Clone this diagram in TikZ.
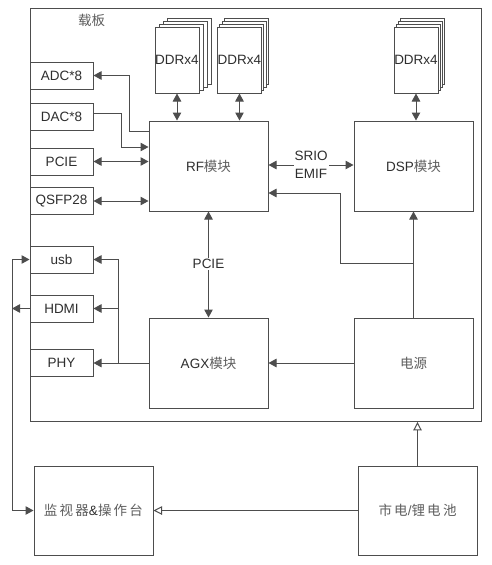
\documentclass[tikz,border=0pt]{standalone}
\usepackage{fontspec}
\setmainfont{Liberation Sans}
\newfontfamily\cjk{Noto Sans CJK SC}
\usetikzlibrary{arrows.meta,calc}
\definecolor{ln}{HTML}{4D4D4D}
\definecolor{tx}{HTML}{2E2E2E}
\definecolor{cj}{HTML}{5E5E5E}
\tikzset{
  box/.style={draw=ln,line width=1pt,fill=white,inner sep=0pt,text=tx,font=\fontsize{13.5}{18}\selectfont},
  conn/.style={draw=ln,line width=1pt},
  arr/.style={conn,-{Triangle[length=8pt,width=8.5pt]}},
  arrb/.style={conn,{Triangle[length=8pt,width=8.5pt]}-{Triangle[length=8pt,width=8.5pt]}},
  oarr/.style={conn,-{Triangle[open,length=8.5pt,width=8.5pt]}},
  lbl/.style={fill=white,inner sep=1pt,text=tx,font=\fontsize{13.5}{18}\selectfont,align=center}
}
\begin{document}
\begin{tikzpicture}[x=1pt,y=-1pt]
\useasboundingbox (0,0) rectangle (492,565);
% board
\node[box,minimum width=451pt,minimum height=412.5pt] (board) at (255.5,215.2) {};
\node[text=cj,font=\fontsize{13.5}{18}\selectfont\cjk] (boardlbl) at (91.5,20) {载板};
% DDR stacks
\foreach \k in {3,2,1}{
  \draw[conn,fill=white] (155+4*\k,27-2.9*\k) rectangle (199+4*\k,93-2.9*\k);
  \draw[conn,fill=white] (217+2.5*\k,27-2.7*\k) rectangle (261+2.5*\k,93-2.7*\k);
  \draw[conn,fill=white] (394+2.3*\k,27-2.7*\k) rectangle (438+2.3*\k,93-2.7*\k);
}
\node[box,minimum width=44pt,minimum height=66pt] (ddr1) at (177,60) {DDRx4};
\node[box,minimum width=44pt,minimum height=66pt] (ddr2) at (239.5,60) {DDRx4};
\node[box,minimum width=44pt,minimum height=66pt] (ddr3) at (416,60) {DDRx4};
% main blocks
\node[box,minimum width=119pt,minimum height=90pt] (rf) at (208.5,166) {RF{\cjk\color{cj}模块}};
\node[box,minimum width=119pt,minimum height=90pt] (dsp) at (413.5,166) {DSP{\cjk\color{cj}模块}};
\node[box,minimum width=119pt,minimum height=90pt] (agx) at (208.5,363) {AGX{\cjk\color{cj}模块}};
\node[box,minimum width=119pt,minimum height=90pt,text=cj,font=\fontsize{13.5}{18}\selectfont\cjk] (pwr) at (413.5,363) {电源};
% left small boxes
\node[box,minimum width=63pt,minimum height=27pt] (adc) at (61.5,75.5) {ADC*8};
\node[box,minimum width=63pt,minimum height=27pt] (dac) at (61.5,116.5) {DAC*8};
\node[box,minimum width=63pt,minimum height=27pt] (pcie) at (61.5,161.5) {PCIE};
\node[box,minimum width=63pt,minimum height=27pt] (qsfp) at (61.5,201) {QSFP28};
\node[box,minimum width=63pt,minimum height=27pt] (usb) at (61.5,259.5) {usb};
\node[box,minimum width=63pt,minimum height=27pt] (hdmi) at (61.5,308.5) {HDMI};
\node[box,minimum width=63pt,minimum height=27pt] (phy) at (61.5,363) {PHY};
% bottom boxes
\node[box,minimum width=119pt,minimum height=89pt,text=cj,font=\fontsize{13.5}{18}\selectfont\cjk] (mon) at (93.5,510.5) {监\,视\,器{\fontspec{Liberation Sans}\color{tx}\&}操\,作\,台};
\node[box,minimum width=119pt,minimum height=89pt,text=cj,font=\fontsize{13.5}{18}\selectfont\cjk] (mains) at (417.5,510.5) {市\,电{\fontspec{Liberation Sans}/}锂\,电\,池};
% DDR connections
\draw[arrb] (ddr1.south) -- (ddr1.south |- rf.north);
\draw[arrb] (ddr2.south) -- (ddr2.south |- rf.north);
\draw[arrb] (ddr3.south) -- (ddr3.south |- dsp.north);
% left connections to RF
\coordinate (adcT) at (129,131);
\draw[arr] (rf.west |- adcT) -- (adcT) |- (adc.east);
\coordinate (dacT) at (121,113);
\draw[arr] (dac.east |- dacT) -- (dacT) |- (rf.west |- 0,147);
\draw[arrb] (pcie.east) -- (pcie.east -| rf.west);
\draw[arrb] (qsfp.east) -- (qsfp.east -| rf.west);
% SRIO / EMIF
\draw[arrb] (rf.east |- 0,165) -- (dsp.west |- 0,165);
\node[lbl] (srio) at (311,165) {SRIO\\EMIF};
% power
\draw[arr] (pwr.north) -- (dsp.south);
\coordinate (pj) at (pwr.north |- 0,263);
\coordinate (pk) at (340,263);
\draw[arr] (pj) -- (pk) |- (rf.east |- 0,193);
\draw[arr] (pwr.west) -- (agx.east);
% PCIE RF-AGX
\draw[arrb] (rf.south) -- (agx.north);
\node[lbl] (pcielbl) at (208.5,264) {PCIE};
% AGX to left boxes
\coordinate (aj) at (118,363);
\draw[arr] (agx.west) -- (phy.east);
\draw[arr] (aj) |- (usb.east);
\draw[arr] (aj |- hdmi.east) -- (hdmi.east);
% outer left link
\coordinate (lf) at (12,510.5);
\draw[arrb] (usb.west) -| (lf) -- (mon.west);
\draw[arr] (hdmi.west) -- (hdmi.west -| lf);
% mains
\draw[oarr] (mains.west) -- (mon.east);
\draw[oarr] (mains.north) -- (mains.north |- board.south);
\end{tikzpicture}
\end{document}
